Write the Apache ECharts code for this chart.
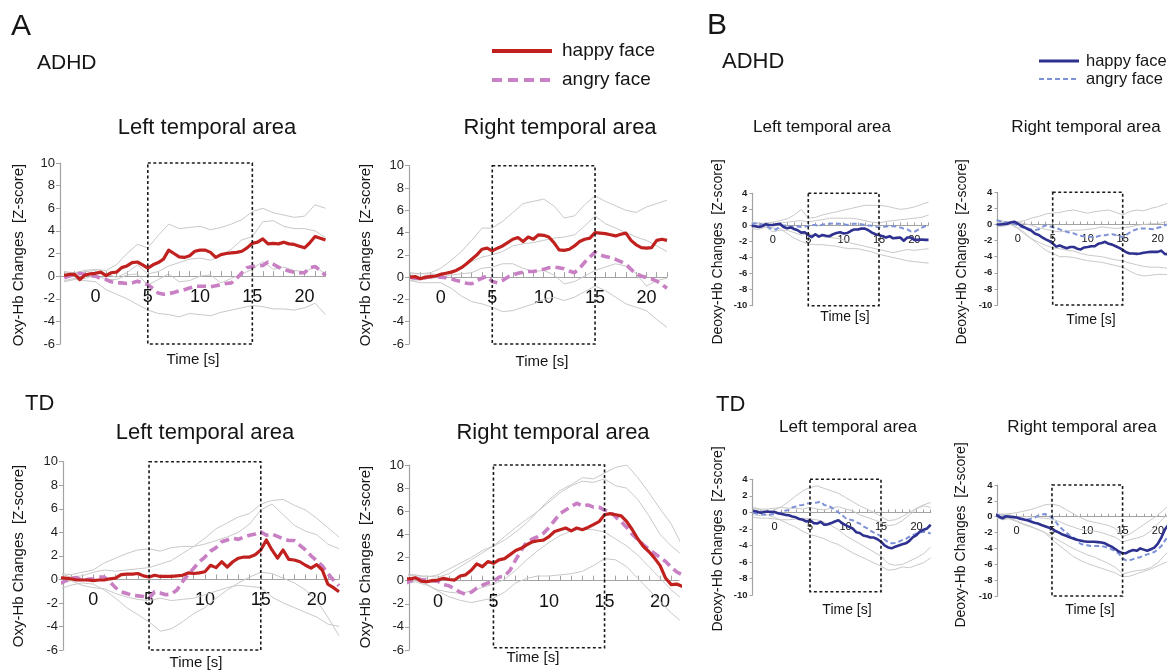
<!DOCTYPE html>
<html><head><meta charset="utf-8">
<script src="https://cdn.jsdelivr.net/npm/echarts@6/dist/echarts.min.js"></script>
<style>html,body{margin:0;padding:0;background:#fff}#c{width:1167px;height:670px}</style>
</head><body><div id="c"></div>
<script>
// ---------- time bases ----------
const T_MEAN = [-3,-2.5,-2,-1.5,-1,-0.5,0,0.5,1,1.5,2,2.5,3,3.5,4,4.5,5,5.5,6,6.5,7,7.5,8,8.5,9,9.5,10,10.5,11,11.5,12,12.5,13,13.5,14,14.5,15,15.5,16,16.5,17,17.5,18,18.5,19,19.5,20,20.5,21,21.5,22];
const T_GRAY = [-3,-2,-1,0,1,2,3,4,5,6,7,8,9,10,11,12,13,14,15,16,17,18,19,20,21,22];
const SEC_TICKS = [-3,-2,-1,0,1,2,3,4,5,6,7,8,9,10,11,12,13,14,15,16,17,18,19,20,21,22];
const TIME_LABELS = [0,5,10,15,20];
const STIM_START = 5, STIM_END = 15;

// ---------- A: Oxy-Hb, ADHD, left ----------
const A_ADHD_L_HAPPY = [0.05,0.15,0.15,-0.3,0.1,0.2,0.25,0.35,0.05,0.3,0.35,0.75,0.9,1.2,1.25,1.0,0.7,1.0,1.2,1.5,2.3,2.0,1.7,1.65,1.8,2.2,2.3,2.3,2.1,1.65,1.9,2.0,2.05,2.1,2.2,2.5,2.9,3.0,3.3,2.85,2.9,2.85,3.0,2.85,2.8,2.65,2.5,2.95,3.5,3.35,3.2];
const A_ADHD_L_ANGRY = [-0.15,0.0,0.15,0.25,0.15,0.05,0.0,-0.2,-0.3,-0.5,-0.6,-0.6,-0.65,-0.6,-0.45,-0.6,-0.75,-1.1,-1.5,-1.6,-1.55,-1.45,-1.3,-1.2,-1.05,-0.9,-0.9,-0.9,-0.95,-0.85,-0.75,-0.65,-0.6,-0.2,0.3,0.75,0.85,0.9,0.95,1.25,1.05,0.8,0.6,0.45,0.35,0.3,0.3,0.75,0.85,0.5,0.05];
const A_ADHD_L_G1 = [0.4,0.3,0.5,0.6,0.5,1.0,2.0,2.8,2.5,3.6,4.6,4.2,4.3,4.4,4.1,4.3,4.6,5.0,5.7,6.0,5.6,5.4,5.2,5.3,6.3,6.0];
const A_ADHD_L_G2 = [-0.4,-0.2,-0.2,0.1,-0.3,-0.3,0.1,0.2,-0.8,-0.3,0.2,-0.5,-0.4,0.0,0.1,-0.6,-0.2,0.2,0.6,1.3,0.6,0.8,0.5,0.4,0.8,0.2];
const A_ADHD_L_G3 = [0.3,0.2,0.4,0.5,0.2,-0.1,0.3,1.0,0.2,0.4,0.9,1.2,1.5,1.6,1.4,1.8,2.4,3.2,3.5,4.8,4.9,4.4,4.2,4.2,4.0,3.4];
const A_ADHD_L_G4 = [-0.5,-0.3,-0.4,-0.5,-1.2,-1.6,-2.0,-2.5,-3.0,-3.3,-3.4,-3.6,-3.3,-3.4,-3.5,-3.2,-3.0,-2.8,-2.6,-2.7,-2.9,-2.9,-3.0,-2.8,-2.4,-3.4];

// ---------- A: Oxy-Hb, ADHD, right ----------
const A_ADHD_R_HAPPY = [0.0,0.05,-0.15,0.0,0.05,0.1,0.25,0.35,0.45,0.6,0.85,1.2,1.6,2.0,2.5,2.6,2.35,2.6,2.8,3.1,3.4,3.55,3.2,3.6,3.4,3.8,3.75,3.6,3.1,2.45,2.4,2.5,2.8,3.2,3.4,3.5,4.0,3.95,3.9,3.8,3.7,3.85,3.95,3.3,2.9,2.65,2.6,2.65,3.3,3.4,3.3];
const A_ADHD_R_ANGRY = [0.0,-0.1,-0.15,-0.05,0.05,0.05,0.0,-0.05,-0.15,-0.3,-0.4,-0.55,-0.6,-0.3,-0.1,0.1,-0.4,-0.5,-0.3,0.0,0.2,0.35,0.45,0.5,0.5,0.6,0.7,0.85,0.9,0.85,0.75,0.55,0.4,0.8,1.35,1.8,2.25,2.0,1.85,1.75,1.6,1.4,1.15,0.7,0.3,0.1,-0.05,-0.15,-0.35,-0.65,-1.0];
const A_ADHD_R_G1 = [0.3,0.3,0.4,0.8,1.5,2.3,3.3,4.4,4.4,5.0,5.8,6.6,6.8,7.0,6.4,5.3,5.5,6.5,7.3,6.8,6.4,6.0,5.8,6.3,6.6,6.9];
const A_ADHD_R_G2 = [-0.3,-0.2,-0.1,0.0,0.2,0.3,0.4,0.8,0.9,1.2,1.2,0.8,0.5,0.6,0.2,-0.6,-0.4,0.1,0.6,0.9,1.2,1.0,0.3,-0.8,-0.3,-0.1];
const A_ADHD_R_G3 = [0.4,0.3,0.3,0.2,0.5,1.0,1.4,1.8,2.0,2.3,2.8,3.0,3.1,3.3,3.5,3.6,3.8,4.6,5.5,4.8,4.4,4.0,3.6,3.3,2.8,2.3];
const A_ADHD_R_G4 = [-0.3,-0.5,-0.5,-0.5,-1.0,-1.7,-2.2,-2.4,-2.7,-3.1,-3.0,-2.7,-2.4,-2.0,-1.8,-2.1,-1.8,-1.3,-0.8,-1.2,-1.8,-2.4,-2.7,-3.0,-3.8,-4.5];

// ---------- A: Oxy-Hb, TD, left ----------
const A_TD_L_HAPPY = [0.15,0.1,0.05,-0.05,-0.05,-0.05,-0.1,-0.05,-0.05,0.05,0.1,0.4,0.45,0.45,0.5,0.3,0.2,0.35,0.25,0.25,0.25,0.3,0.35,0.55,0.5,0.55,0.65,1.2,1.0,1.5,1.05,1.5,1.8,1.9,1.9,2.1,2.5,3.35,2.5,1.8,2.5,1.7,1.65,1.5,1.2,0.95,1.25,0.8,-0.4,-0.7,-1.05];
const A_TD_L_ANGRY = [-0.35,-0.15,0.1,0.15,-0.1,0.0,0.05,0.2,0.2,-0.2,-0.7,-1.05,-1.2,-1.35,-1.4,-1.45,-1.6,-1.05,-1.15,-1.3,-1.25,-0.9,-0.2,0.4,0.95,1.5,1.9,2.4,2.7,3.2,3.35,3.5,3.4,3.6,3.75,3.85,4.05,3.75,3.85,3.65,3.45,3.3,3.3,2.9,2.5,2.0,1.6,1.15,0.5,-0.05,-0.55];
const A_TD_L_G1 = [0.5,0.2,0.3,0.6,0.8,0.7,0.8,0.9,1.0,1.3,1.6,2.2,2.8,3.5,4.3,4.8,5.3,5.6,6.4,6.7,6.8,6.3,5.9,5.2,4.4,3.6];
const A_TD_L_G2 = [0.5,0.4,0.6,0.8,1.4,1.8,2.2,2.5,2.6,2.4,2.7,2.8,2.8,3.0,3.3,3.6,4.0,4.7,5.9,6.4,5.5,4.6,4.1,3.8,3.0,2.6];
const A_TD_L_G3 = [-0.3,-0.1,-0.5,-0.7,-0.8,-1.2,-1.5,-1.7,-1.8,-1.6,-1.8,-1.7,-1.6,-1.3,-1.0,-0.7,-0.5,-0.6,-0.7,-1.5,-2.0,-2.4,-2.8,-3.2,-3.8,-4.0];
const A_TD_L_G4 = [-0.8,-0.5,-0.3,-0.4,-0.9,-1.6,-2.4,-3.0,-3.6,-4.4,-4.2,-3.6,-2.9,-2.4,-1.6,-0.9,-0.3,0.2,0.6,0.5,0.1,-0.3,-0.9,-1.8,-3.2,-4.8];

// ---------- A: Oxy-Hb, TD, right ----------
const A_TD_R_HAPPY = [0.15,0.15,0.25,-0.05,-0.1,0.0,0.05,0.2,0.1,0.05,0.4,0.5,0.9,1.45,1.2,1.65,1.5,1.8,1.9,2.25,2.6,2.8,3.1,3.35,3.45,3.5,3.8,4.25,4.4,4.55,4.3,4.55,4.4,4.6,4.85,5.1,5.7,5.8,5.7,5.6,5.1,4.4,3.6,2.95,2.5,1.95,1.3,0.2,-0.35,-0.3,-0.5];
const A_TD_R_ANGRY = [-0.25,-0.05,0.2,0.1,0.05,0.0,-0.05,-0.35,-0.45,-0.7,-1.0,-1.2,-1.0,-0.65,-0.4,-0.2,-0.1,0.3,0.4,0.9,1.8,2.6,3.35,3.6,3.8,4.1,4.6,5.2,5.8,6.1,6.4,6.7,6.45,6.55,6.35,6.35,6.1,5.95,5.5,5.1,4.6,4.0,3.55,3.1,2.7,2.35,2.0,1.65,1.15,0.75,0.5];
const A_TD_R_G1 = [0.6,0.5,0.3,0.5,1.0,1.5,2.0,2.6,3.0,3.8,4.6,5.3,6.0,7.0,7.8,8.3,8.9,8.8,9.3,9.8,10.0,8.9,7.6,6.2,4.9,3.0];
const A_TD_R_G2 = [0.5,0.4,0.4,0.3,0.6,1.2,1.8,2.4,3.0,3.5,4.2,5.0,6.0,6.8,7.6,8.2,8.6,8.5,8.8,8.2,8.0,7.0,5.6,4.0,3.0,2.2];
const A_TD_R_G3 = [-0.3,-0.1,-0.4,-0.8,-1.0,-1.1,-0.9,-0.6,-0.3,0.1,0.9,1.8,2.6,3.3,3.9,4.3,4.5,4.4,4.2,3.6,3.0,2.2,1.2,0.2,-0.8,-1.6];
const A_TD_R_G4 = [0.2,0.0,-0.3,-0.9,-1.4,-1.7,-1.9,-1.7,-1.5,-1.0,-0.2,0.2,0.4,0.4,0.5,0.6,0.8,1.3,1.9,1.8,1.2,0.2,-0.8,-1.8,-2.8,-3.6];

// ---------- B: Deoxy-Hb, ADHD, left ----------
const B_ADHD_L_HAPPY = [-0.05,-0.1,-0.2,-0.1,0.15,0.05,0.05,0.15,0.2,-0.2,-0.35,-0.25,-0.45,-0.6,-0.9,-0.85,-1.2,-1.45,-1.1,-1.4,-1.2,-1.3,-1.35,-1.1,-0.95,-0.85,-1.0,-0.95,-0.7,-0.5,-0.5,-0.4,-0.4,-0.6,-0.9,-1.1,-1.2,-1.35,-1.5,-1.35,-1.6,-1.55,-1.5,-1.9,-1.5,-1.5,-1.8,-1.8,-1.75,-1.8,-1.8];
const B_ADHD_L_ANGRY = [0.2,0.25,0.25,0.1,0.0,-0.3,-0.5,-0.5,-0.1,0.0,0.0,-0.2,-0.15,-0.15,-0.2,-0.15,-0.1,0.05,0.05,-0.05,0.1,0.15,0.2,0.25,0.2,0.2,0.15,0.05,0.15,0.2,0.2,0.15,0.05,0.0,-0.05,-0.15,-0.25,-0.2,-0.15,-0.1,-0.1,-0.15,-0.25,-0.4,-0.5,-0.75,-0.8,-0.55,-0.3,-0.1,0.1];
const B_ADHD_L_G1 = [0.3,0.2,0.3,0.4,0.6,0.8,1.3,2.0,0.9,1.0,1.3,1.5,1.7,1.9,2.1,2.3,2.5,2.5,2.5,2.4,2.2,2.0,2.1,2.3,2.6,2.9];
const B_ADHD_L_G2 = [0.4,0.3,0.2,0.0,0.3,0.4,0.5,0.6,0.4,0.6,0.7,0.9,0.9,0.9,0.9,0.8,0.6,0.4,0.3,0.5,0.6,0.7,0.8,0.9,1.0,1.3];
const B_ADHD_L_G3 = [-0.1,0.0,-0.2,-0.8,-0.6,-0.6,-0.9,-1.2,-1.0,-1.2,-1.4,-1.5,-1.6,-1.8,-2.2,-2.4,-2.6,-2.8,-3.0,-3.2,-3.4,-3.2,-3.0,-3.1,-3.0,-2.9];
const B_ADHD_L_G4 = [-0.4,-0.5,-0.2,-0.3,-0.4,-1.0,-1.6,-2.0,-2.3,-2.4,-2.4,-2.5,-2.6,-2.8,-2.9,-2.9,-3.1,-3.3,-3.6,-3.8,-4.0,-4.2,-4.4,-4.5,-4.6,-4.7];

// ---------- B: Deoxy-Hb, ADHD, right ----------
const B_ADHD_R_HAPPY = [0.0,0.0,0.05,0.1,0.25,0.35,0.1,-0.15,-0.35,-0.6,-0.8,-1.15,-1.3,-1.6,-1.85,-2.05,-2.35,-2.75,-2.6,-2.8,-2.95,-2.8,-2.8,-3.0,-3.1,-2.85,-2.8,-2.7,-2.7,-2.4,-2.3,-2.15,-2.4,-2.5,-2.7,-2.9,-3.15,-3.45,-3.6,-3.6,-3.65,-3.6,-3.5,-3.45,-3.4,-3.4,-3.4,-3.25,-3.65,-3.7,-3.7];
const B_ADHD_R_ANGRY = [0.55,0.4,0.35,0.25,0.2,0.1,-0.15,-0.3,-0.45,-0.5,-0.65,-0.7,-0.6,-0.3,-0.1,-0.2,-0.35,-0.45,-0.6,-0.8,-0.9,-1.05,-1.1,-1.3,-1.4,-1.5,-1.5,-1.55,-1.6,-1.45,-1.35,-1.35,-1.25,-1.2,-1.3,-1.4,-1.6,-1.3,-1.0,-0.75,-0.6,-0.5,-0.5,-0.5,-0.55,-0.6,-0.4,-0.3,-0.1,0.05,0.1];
const B_ADHD_R_G1 = [0.6,0.4,0.2,0.3,0.5,0.8,1.0,1.3,1.4,1.5,1.7,1.8,1.6,1.4,1.6,1.7,1.8,1.5,1.2,1.6,1.8,1.7,2.0,2.2,2.5,2.9];
const B_ADHD_R_G2 = [0.3,0.2,0.4,0.3,0.1,-0.1,-0.4,-0.6,-0.8,-0.9,-0.8,-0.7,-0.7,-0.6,-0.5,-0.3,-0.4,-0.5,-0.4,-0.3,-0.1,0.0,0.1,0.1,0.3,0.5];
const B_ADHD_R_G3 = [0.2,0.1,0.0,-0.5,-1.2,-1.8,-2.2,-2.6,-2.9,-3.0,-3.2,-3.3,-3.6,-3.8,-3.9,-4.0,-4.2,-4.4,-4.5,-4.8,-5.0,-5.2,-5.3,-5.3,-5.4,-5.5];
const B_ADHD_R_G4 = [-0.3,-0.2,0.0,-0.4,-1.0,-1.8,-2.5,-3.2,-3.6,-4.0,-4.0,-4.1,-4.3,-4.5,-4.6,-4.7,-4.9,-5.1,-5.3,-5.8,-6.2,-6.4,-6.3,-6.2,-6.2,-6.3];

// ---------- B: Deoxy-Hb, TD, left ----------
const B_TD_L_HAPPY = [0.2,0.1,-0.05,0.05,0.1,0.05,0.05,-0.1,-0.2,-0.3,-0.35,-0.5,-0.6,-0.8,-0.9,-1.1,-0.95,-1.3,-1.35,-1.15,-1.5,-1.45,-1.3,-1.1,-0.95,-1.3,-1.55,-1.75,-1.95,-2.4,-2.5,-2.8,-2.9,-3.05,-3.05,-3.25,-3.55,-4.0,-4.25,-4.35,-4.15,-4.0,-3.85,-3.75,-3.45,-3.0,-2.75,-2.3,-2.1,-1.95,-1.5];
const B_TD_L_ANGRY = [-0.05,-0.15,-0.2,-0.25,-0.3,-0.25,-0.2,-0.1,0.0,0.2,0.3,0.6,0.7,0.85,0.9,1.05,1.1,1.15,1.2,1.3,0.9,0.8,0.6,0.3,0.0,-0.3,-0.7,-0.85,-0.95,-1.2,-1.35,-1.7,-1.9,-2.2,-2.45,-2.65,-2.9,-3.3,-3.6,-3.75,-3.7,-3.55,-3.35,-3.2,-2.95,-2.75,-2.55,-2.45,-2.35,-2.45,-2.55];
const B_TD_L_G1 = [0.5,0.3,0.1,0.3,0.7,1.3,2.0,2.6,3.0,3.2,2.9,2.6,2.3,1.8,1.3,0.8,0.4,0.0,-0.5,-1.0,-0.9,-0.5,0.0,0.5,0.9,1.2];
const B_TD_L_G2 = [0.6,0.4,0.4,0.5,0.6,0.5,0.5,0.4,0.6,0.4,0.3,0.5,0.7,0.4,0.2,-0.3,-0.6,-0.9,-1.2,-1.6,-1.5,-1.0,-0.3,0.4,0.8,0.6];
const B_TD_L_G3 = [-0.6,-0.7,-0.7,-0.8,-0.9,-0.9,-0.8,-0.7,-0.8,-0.9,-1.2,-1.6,-2.1,-2.8,-3.3,-3.8,-4.3,-4.8,-5.3,-6.2,-6.4,-6.3,-5.9,-5.5,-5.0,-4.2];
const B_TD_L_G4 = [-0.3,-0.4,-0.3,-0.6,-1.0,-1.4,-1.8,-2.3,-2.7,-2.9,-3.2,-3.6,-3.9,-4.4,-4.9,-5.3,-5.7,-6.1,-6.5,-7.0,-6.9,-6.6,-6.7,-6.4,-6.1,-5.5];

// ---------- B: Deoxy-Hb, TD, right ----------
const B_TD_R_HAPPY = [0.3,0.0,-0.2,0.05,0.0,-0.05,-0.1,-0.25,-0.35,-0.45,-0.6,-0.75,-0.85,-1.05,-1.2,-1.35,-1.5,-1.8,-2.0,-2.25,-2.4,-2.6,-2.75,-2.9,-3.0,-3.1,-3.15,-3.15,-3.15,-3.2,-3.25,-3.35,-3.6,-3.8,-4.1,-4.4,-4.6,-4.6,-4.35,-4.2,-4.3,-4.0,-4.15,-4.3,-4.1,-3.9,-3.4,-2.6,-1.6,-1.0,-0.5];
const B_TD_R_ANGRY = [0.1,0.2,0.15,0.1,0.05,-0.05,-0.1,-0.2,-0.3,-0.35,-0.25,-0.15,0.1,0.25,0.35,0.15,-0.1,-0.6,-1.2,-1.6,-2.0,-2.35,-2.6,-2.85,-3.4,-3.55,-3.6,-3.7,-3.7,-3.7,-3.7,-3.8,-3.95,-4.15,-4.35,-4.7,-5.25,-5.5,-5.5,-5.35,-5.2,-5.1,-4.9,-4.75,-4.6,-4.45,-4.1,-3.7,-3.0,-2.5,-2.0];
const B_TD_R_G1 = [0.4,0.3,0.4,0.5,0.7,0.9,1.2,1.5,1.6,1.4,0.9,0.4,-0.1,-0.5,-0.7,-0.9,-1.1,-1.5,-2.5,-2.2,-1.6,-1.0,-0.4,0.2,1.0,1.8];
const B_TD_R_G2 = [0.4,0.2,0.2,0.0,0.0,0.0,-0.1,-0.2,-0.3,-0.6,-1.0,-1.3,-1.6,-1.7,-1.8,-2.0,-2.3,-2.6,-3.2,-2.9,-2.7,-2.4,-1.8,-0.9,0.0,0.6];
const B_TD_R_G3 = [0.0,-0.4,-0.2,-0.5,-0.9,-1.2,-1.6,-2.0,-2.5,-3.0,-3.5,-4.0,-4.4,-4.8,-5.1,-5.5,-5.9,-6.4,-7.2,-7.0,-6.8,-6.7,-6.4,-5.8,-4.8,-4.0];
const B_TD_R_G4 = [-0.2,-0.1,-0.3,-0.6,-1.0,-1.3,-1.6,-2.0,-2.9,-3.6,-4.3,-5.0,-5.5,-5.9,-6.2,-6.5,-6.8,-7.1,-7.6,-7.5,-7.2,-6.9,-6.6,-6.2,-5.8,-5.5];

// ---------- styles & layout ----------
const FONT = "'Liberation Sans', Arial, Helvetica, sans-serif";
const AXIS_COLOR = '#a3a3a3';
const GRAY_COLOR = '#c9c9c9';
const STYLE = {
  A: {yMin:-6, yMax:10, happy:'#c0211f', angry:'#c87fc3', happyW:3.2, angryW:3.6, dash:[9,5],
      yFont:13, yMargin:5, yTick:4, xFont:18, xMargin:12, xTick:5, yTitle:'Oxy-Hb Changes  [Z-score]', titleFont:15},
  B: {yMin:-10, yMax:4, happy:'#2e3190', angry:'#7e92d8', happyW:2.6, angryW:2.0, dash:[5,3],
      yFont:9.5, yMargin:5, yTick:3, xFont:11, xMargin:9, xTick:3, yTitle:'Deoxy-Hb Changes  [Z-score]', titleFont:14}
};
const CANVAS_H = 670;
const PANELS = [
  {kind:'A', happy:A_ADHD_L_HAPPY, angry:A_ADHD_L_ANGRY, grays:[A_ADHD_L_G1,A_ADHD_L_G2,A_ADHD_L_G3,A_ADHD_L_G4],
   left:60, right:841.5, top:163, bottom:326, xMin:-3.4, xMax:22, box:[10,-6], yt:[19,255], tt:[193,360]},
  {kind:'A', happy:A_ADHD_R_HAPPY, angry:A_ADHD_R_ANGRY, grays:[A_ADHD_R_G1,A_ADHD_R_G2,A_ADHD_R_G3,A_ADHD_R_G4],
   left:409, right:500, top:165.7, bottom:326, xMin:-3.1, xMax:22, box:[10,-6], yt:[366,255], tt:[542,362]},
  {kind:'A', happy:A_TD_L_HAPPY, angry:A_TD_L_ANGRY, grays:[A_TD_L_G1,A_TD_L_G2,A_TD_L_G3,A_TD_L_G4],
   left:63, right:828, top:461.7, bottom:20, xMin:-2.7, xMax:22, box:[10,-6], yt:[19,556], tt:[196,663]},
  {kind:'A', happy:A_TD_R_HAPPY, angry:A_TD_R_ANGRY, grays:[A_TD_R_G1,A_TD_R_G2,A_TD_R_G3,A_TD_R_G4],
   left:409, right:488, top:465, bottom:20, xMin:-2.6, xMax:21.7, box:[10,-5.8], yt:[366,557], tt:[533,658]},
  {kind:'B', happy:B_ADHD_L_HAPPY, angry:B_ADHD_L_ANGRY, grays:[B_ADHD_L_G1,B_ADHD_L_G2,B_ADHD_L_G3,B_ADHD_L_G4],
   left:752.4, right:238.5, top:193.3, bottom:364.3, xMin:-2.9, xMax:22, box:[4.3,-10], yt:[718,252], tt:[845,317]},
  {kind:'B', happy:B_ADHD_R_HAPPY, angry:B_ADHD_R_ANGRY, grays:[B_ADHD_R_G1,B_ADHD_R_G2,B_ADHD_R_G3,B_ADHD_R_G4],
   left:997.4, right:-4.7, top:192.3, bottom:365, xMin:-2.9, xMax:22, box:[4.2,-10], yt:[962,252], tt:[1091,320]},
  {kind:'B', happy:B_TD_L_HAPPY, angry:B_TD_L_ANGRY, grays:[B_TD_L_G1,B_TD_L_G2,B_TD_L_G3,B_TD_L_G4],
   left:752.5, right:236.3, top:479.3, bottom:75, xMin:-3.1, xMax:22, box:[4.4,-9.6], yt:[718,539], tt:[847,610]},
  {kind:'B', happy:B_TD_R_HAPPY, angry:B_TD_R_ANGRY, grays:[B_TD_R_G1,B_TD_R_G2,B_TD_R_G3,B_TD_R_G4],
   left:997.6, right:-5, top:485, bottom:74, xMin:-2.7, xMax:22, box:[4.1,-10], yt:[961,535], tt:[1090,610]}
];
// [text, x, y, fontSize, align]
const HEADINGS = [
  ['A', 11, 27, 30, 'left'], ['B', 707, 26, 30, 'left'],
  ['ADHD', 37, 63, 21, 'left'], ['TD', 25, 404, 22, 'left'],
  ['ADHD', 722, 62, 22, 'left'], ['TD', 716, 405, 22, 'left'],
  ['Left temporal area', 207, 128, 22, 'center'], ['Right temporal area', 560, 128, 22, 'center'],
  ['Left temporal area', 205, 433, 22, 'center'], ['Right temporal area', 553, 433, 22, 'center'],
  ['Left temporal area', 822, 127, 17, 'center'], ['Right temporal area', 1086, 127, 17, 'center'],
  ['Left temporal area', 848, 427, 17, 'center'], ['Right temporal area', 1082, 427, 17, 'center']
];
// legend: [kind, label, x1, x2, y, textX, fontSize, isAngry]
const LEGENDS = [
  ['A','happy face',492,552,51,562,19,false], ['A','angry face',492,552,80,562,19,true],
  ['B','happy face',1039,1079,61,1086,16.5,false], ['B','angry face',1039,1079,79,1086,16.5,true]
];

// ---------- build option ----------
const option = {animation:false, backgroundColor:'#ffffff', grid:[], xAxis:[], yAxis:[], series:[], graphic:[]};
const txt = (text, x, y, size, align, rot) => ({
  type:'text', x:x, y:y, rotation: rot||0, silent:true, z:10,
  style:{text:text, fill:'#151515', font: size+'px '+FONT, textAlign:align, textVerticalAlign:'middle', align:align, verticalAlign:'middle'}
});
PANELS.forEach((p, i) => {
  const s = STYLE[p.kind];
  const gridH = CANVAS_H - p.top - p.bottom;
  const zeroOffset = -gridH * (0 - s.yMin) / (s.yMax - s.yMin); // lift the time axis up to value 0
  option.grid.push({left:p.left, right:p.right, top:p.top, bottom:p.bottom, containLabel:false, outerBoundsMode:'none'});
  option.xAxis.push({
    type:'value', gridIndex:i, min:p.xMin, max:p.xMax, position:'bottom', offset:zeroOffset,
    axisLine:{show:true, onZero:false, lineStyle:{color:AXIS_COLOR, width:1.2}},
    axisTick:{show:true, inside:true, length:s.xTick, customValues:SEC_TICKS.filter(v => v >= p.xMin && v <= p.xMax), lineStyle:{color:AXIS_COLOR, width:1}},
    axisLabel:{show:true, customValues:TIME_LABELS, fontSize:s.xFont, fontFamily:FONT, color:'#111', margin:s.xMargin},
    splitLine:{show:false}
  });
  option.yAxis.push({
    type:'value', gridIndex:i, min:s.yMin, max:s.yMax, interval:2,
    axisLine:{show:true, onZero:false, lineStyle:{color:AXIS_COLOR, width:1.2}},
    axisTick:{show:true, length:s.yTick, lineStyle:{color:AXIS_COLOR}},
    axisLabel:{fontSize:s.yFont, fontFamily:FONT, color:'#1e1e1e', margin:s.yMargin, fontWeight: p.kind==='B' ? 'bold' : 'normal'},
    splitLine:{show:false}
  });
  p.grays.forEach(g => option.series.push({
    type:'line', xAxisIndex:i, yAxisIndex:i, data:T_GRAY.map((t,k) => [t, g[k]]),
    symbol:'none', silent:true, clip:true, lineStyle:{color:GRAY_COLOR, width:1}, z:2
  }));
  option.series.push({
    type:'line', name:'angry face', xAxisIndex:i, yAxisIndex:i, data:T_MEAN.map((t,k) => [t, p.angry[k]]),
    symbol:'none', silent:true, clip:true, lineStyle:{color:s.angry, width:s.angryW, type:s.dash, cap:'butt'}, z:3
  });
  option.series.push({
    type:'line', name:'happy face', xAxisIndex:i, yAxisIndex:i, data:T_MEAN.map((t,k) => [t, p.happy[k]]),
    symbol:'none', silent:true, clip:true, lineStyle:{color:s.happy, width:s.happyW, join:'round'}, z:4,
    markArea:{silent:true, z:5, itemStyle:{color:'rgba(0,0,0,0)', borderColor:'#1a1a1a', borderWidth:1.6, borderType:[3,2.5]},
      data:[[{coord:[STIM_START, p.box[0]]}, {coord:[STIM_END, p.box[1]]}]]}
  });
  option.graphic.push(txt(s.yTitle, p.yt[0], p.yt[1], s.titleFont, 'center', Math.PI/2));
  option.graphic.push(txt('Time [s]', p.tt[0], p.tt[1], s.titleFont, 'center', 0));
});
HEADINGS.forEach(h => option.graphic.push(txt(h[0], h[1], h[2], h[3], h[4], 0)));
LEGENDS.forEach(l => {
  const s = STYLE[l[0]];
  option.graphic.push({type:'line', silent:true, z:10, shape:{x1:l[2], y1:l[4], x2:l[3], y2:l[4]},
    style:{stroke: l[7] ? s.angry : s.happy, lineWidth: l[0]==='A' ? 4 : (l[7] ? 2 : 3), lineDash: l[7] ? (l[0]==='A' ? [10,6] : [5,3]) : null}});
  option.graphic.push(txt(l[1], l[5], l[4], l[6], 'left', 0));
});

const chart = echarts.init(document.getElementById('c'), null, {renderer:'canvas'});
chart.setOption(option);
</script>
</body></html>
